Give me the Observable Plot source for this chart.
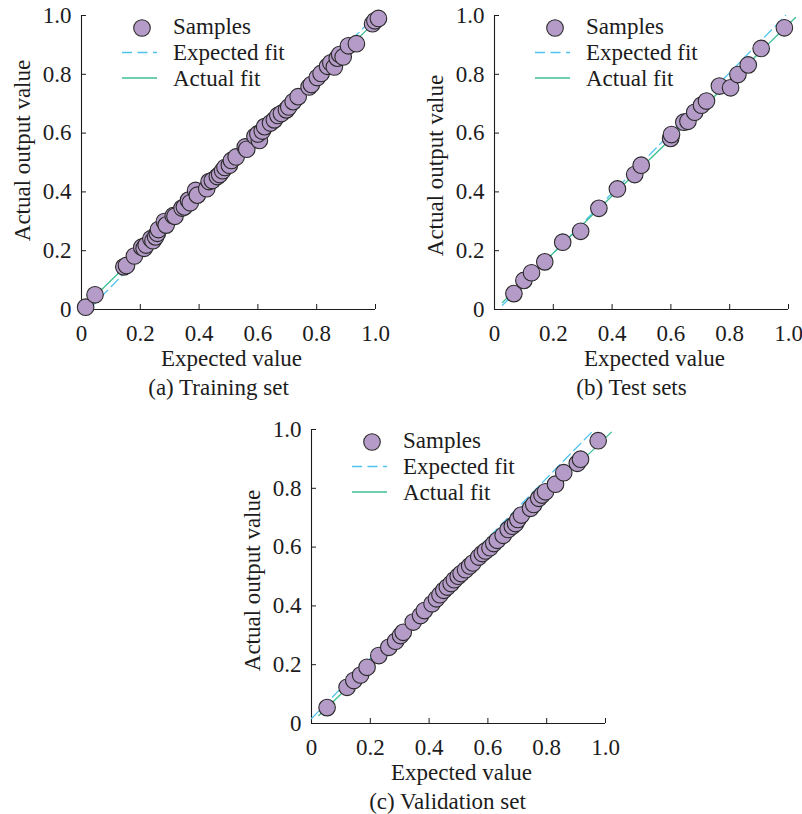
<!DOCTYPE html>
<html><head><meta charset="utf-8">
<script src="https://cdn.jsdelivr.net/npm/d3@7"></script>
<script src="https://cdn.jsdelivr.net/npm/@observablehq/plot@0.6"></script>
<style>
html,body{margin:0;padding:0;background:#fff;}
#wrap{position:relative;width:802px;height:814px;overflow:hidden;background:#fff;}
#wrap svg{position:absolute;}
#wrap svg text{font-family:'Liberation Serif','Times New Roman',Times,serif;}
</style></head><body><div id="wrap"></div>
<script>
const tickValues = [0, 0.2, 0.4, 0.6, 0.8, 1.0];
const tickLabels = ["0", "0.2", "0.4", "0.6", "0.8", "1.0"];
const legendLabels = ["Samples", "Expected fit", "Actual fit"];
const xTitle = "Expected value";
const yTitle = "Actual output value";
const captions = ["(a) Training set", "(b) Test sets", "(c) Validation set"];

// (a) Training set
const trainX = [0.014,0.046,0.144,0.153,0.180,0.205,0.213,0.220,0.236,0.243,0.252,0.258,0.262,0.282,0.288,0.312,0.318,0.342,0.350,0.364,0.370,0.388,0.394,0.426,0.434,0.445,0.462,0.470,0.480,0.488,0.503,0.510,0.526,0.557,0.562,0.590,0.605,0.600,0.615,0.623,0.643,0.656,0.668,0.680,0.697,0.705,0.720,0.737,0.774,0.782,0.802,0.815,0.837,0.848,0.860,0.870,0.878,0.890,0.908,0.935,0.990,0.998,1.010];
const trainY = [0.008,0.050,0.145,0.150,0.182,0.212,0.208,0.219,0.241,0.234,0.247,0.259,0.272,0.299,0.287,0.319,0.317,0.345,0.349,0.372,0.363,0.405,0.389,0.411,0.435,0.439,0.452,0.459,0.472,0.483,0.491,0.507,0.519,0.553,0.545,0.589,0.575,0.597,0.607,0.622,0.634,0.645,0.660,0.667,0.679,0.689,0.707,0.724,0.757,0.765,0.789,0.803,0.827,0.839,0.825,0.855,0.867,0.859,0.897,0.904,0.972,0.982,0.990];
const trainExpX = [0.03, 1.0], trainExpY = [0.005, 1.0];
const trainFitX = [0.03, 1.0], trainFitY = [0.03, 0.98];

// (b) Test sets
const testX = [0.066,0.100,0.126,0.171,0.232,0.293,0.355,0.418,0.477,0.499,0.599,0.602,0.644,0.658,0.681,0.704,0.721,0.765,0.803,0.828,0.863,0.907,0.986];
const testY = [0.054,0.099,0.125,0.162,0.229,0.266,0.344,0.410,0.459,0.491,0.582,0.595,0.637,0.640,0.671,0.695,0.709,0.760,0.754,0.799,0.832,0.888,0.958];
const testExpX = [0.027, 0.99], testExpY = [0.014, 1.0];
const testFitX = [0.027, 1.024], testFitY = [0.024, 0.993];

// (c) Validation set
const valX = [0.053,0.121,0.144,0.167,0.189,0.229,0.263,0.286,0.303,0.312,0.346,0.371,0.384,0.410,0.425,0.437,0.450,0.462,0.475,0.486,0.499,0.509,0.524,0.538,0.549,0.569,0.581,0.592,0.607,0.620,0.632,0.652,0.669,0.683,0.694,0.702,0.714,0.745,0.756,0.773,0.784,0.796,0.830,0.858,0.904,0.915,0.975];
const valY = [0.054,0.123,0.146,0.165,0.191,0.231,0.259,0.280,0.299,0.310,0.345,0.367,0.384,0.407,0.424,0.438,0.453,0.464,0.476,0.489,0.501,0.510,0.523,0.536,0.546,0.566,0.578,0.587,0.598,0.612,0.623,0.640,0.660,0.671,0.680,0.694,0.709,0.732,0.745,0.766,0.777,0.788,0.814,0.853,0.885,0.899,0.962];
const valExpX = [0.0, 0.959], valExpY = [0.017, 0.997];
const valFitX = [0.025, 1.02], valFitY = [0.027, 0.991];

const FONT = "'Liberation Serif', 'Times New Roman', Times, serif";
const FS = 23;
const DOT_FILL = "#b49bc8", DOT_STROKE = "#2a2a2a";
const EXP_COLOR = "#4ec3ee", FIT_COLOR = "#3cbf95";
const INK = "#1c1c1c";

function pairs(xs, ys) { return xs.map((x, i) => ({x, y: ys[i]})); }

function panel(o) {
  const inner = 294, mL = 81, mT = 15, mB = 95;
  const fmt = d => tickLabels[tickValues.indexOf(d)];
  const svg = Plot.plot({
    width: o.width, height: mT + inner + mB,
    marginLeft: mL, marginTop: mT, marginRight: o.width - mL - inner, marginBottom: mB,
    style: {fontFamily: FONT, fontSize: FS + "px", color: INK, background: "transparent", overflow: "visible"},
    x: {domain: [0, 1]},
    y: {domain: [0, 1]},
    marks: [
      Plot.axisX({ticks: tickValues, tickFormat: fmt, tickSize: 0, tickPadding: 15, label: null, fontSize: FS, fontFamily: FONT}),
      Plot.axisY({ticks: tickValues, tickFormat: fmt, tickSize: 0, tickPadding: 10, label: null, fontSize: FS, fontFamily: FONT}),
      Plot.tickX(tickValues, {x: d => d, insetTop: inner - 5, stroke: INK}),
      Plot.tickY(tickValues, {y: d => d, insetRight: inner - 5, stroke: INK}),
      Plot.ruleX([0], {stroke: INK, strokeWidth: 1.1}),
      Plot.ruleY([0], {stroke: INK, strokeWidth: 1.1}),
      Plot.line(pairs(o.exX, o.exY), {x: "x", y: "y", stroke: EXP_COLOR, strokeWidth: 1.3, strokeDasharray: "10,5"}),
      Plot.line(pairs(o.fitX, o.fitY), {x: "x", y: "y", stroke: FIT_COLOR, strokeWidth: 1.3}),
      Plot.dot(pairs(o.xs, o.ys), {x: "x", y: "y", r: 8.3, fill: DOT_FILL, stroke: DOT_STROKE, strokeWidth: 1.1}),
      Plot.text([yTitle], {frameAnchor: "left", text: d => d, rotate: -90, textAnchor: "middle", lineAnchor: "middle", dx: 22 - mL, dy: o.yTitleDy, fontSize: FS, fontFamily: FONT, fill: INK}),
      Plot.text([xTitle], {frameAnchor: "bottom", text: d => d, textAnchor: "middle", dx: o.xTitleDx, dy: 49, lineAnchor: "middle", fontSize: FS, fontFamily: FONT, fill: INK}),
      Plot.text([o.caption], {frameAnchor: "bottom", text: d => d, textAnchor: "middle", dx: o.capDx, dy: 78, lineAnchor: "middle", fontSize: FS, fontFamily: FONT, fill: INK})
    ]
  });
  // legend
  const g = d3.select(svg).append("g").attr("transform", `translate(${mL},${mT})`);
  g.append("circle").attr("cx", 61).attr("cy", 13).attr("r", 8.3)
    .attr("fill", DOT_FILL).attr("stroke", DOT_STROKE).attr("stroke-width", 1.1);
  g.append("line").attr("x1", 41).attr("x2", 76).attr("y1", 37.5).attr("y2", 37.5)
    .attr("stroke", EXP_COLOR).attr("stroke-width", 1.6).attr("stroke-dasharray", "10,5.5");
  g.append("line").attr("x1", 41).attr("x2", 76).attr("y1", 63).attr("y2", 63)
    .attr("stroke", FIT_COLOR).attr("stroke-width", 1.6);
  legendLabels.forEach((t, i) => {
    g.append("text").attr("x", 92).attr("y", 19 + 26 * i).attr("fill", INK)
      .attr("text-anchor", "start")
      .style("font-family", FONT).style("font-size", FS + "px").text(t);
  });
  svg.style.left = o.left + "px";
  svg.style.top = o.top + "px";
  return svg;
}

const wrap = document.getElementById("wrap");
wrap.appendChild(panel({xs: trainX, ys: trainY, exX: trainExpX, exY: trainExpY, fitX: trainFitX, fitY: trainFitY,
  caption: captions[0], left: 0, top: 0, width: 400, yTitleDy: -12, xTitleDx: 3, capDx: -10}));
wrap.appendChild(panel({xs: testX, ys: testY, exX: testExpX, exY: testExpY, fitX: testFitX, fitY: testFitY,
  caption: captions[1], left: 413, top: 0, width: 389, yTitleDy: 3, xTitleDx: 13, capDx: -10}));
wrap.appendChild(panel({xs: valX, ys: valY, exX: valExpX, exY: valExpY, fitX: valFitX, fitY: valFitY,
  caption: captions[2], left: 230, top: 414, width: 400, yTitleDy: 4, xTitleDx: 3, capDx: -11}));
</script></body></html>
